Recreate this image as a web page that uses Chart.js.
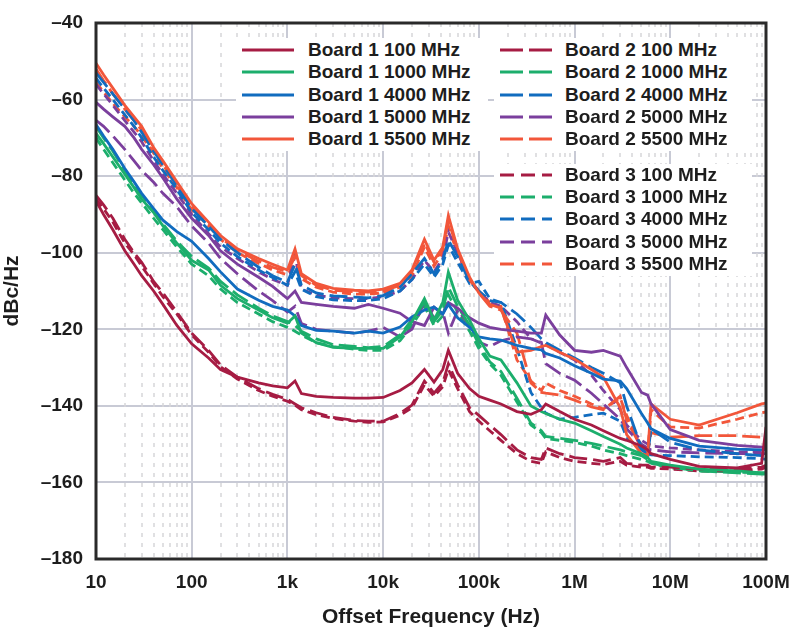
<!DOCTYPE html>
<html><head><meta charset="utf-8">
<script src="https://cdn.jsdelivr.net/npm/chart.js@4.4.1/dist/chart.umd.min.js"></script>
<style>
html,body{margin:0;padding:0;background:#fff;}
#wrap{position:relative;width:796px;height:634px;overflow:hidden;}
#c{position:absolute;left:0;top:0;}
.box{position:absolute;background:#fff;}
.row{position:absolute;height:22px;white-space:nowrap;font-family:'Liberation Sans',Arial,sans-serif;font-weight:bold;font-size:19px;line-height:22px;color:#1d1d1d;}
.row svg{position:absolute;top:0;}
.row span{position:absolute;top:0;}
</style></head>
<body><div id="wrap"><canvas id="c" width="796" height="634"></canvas><div id="legend"></div></div>
<script>
// ---- data ----
const freqs = [10,12,15,20,25,30,40,50,70,100,150,200,300,500,700,1000,1200,1400,2000,3000,5000,7000,10000,15000,20000,27000,34000,42000,48000,60000,80000,100000,130000,170000,250000,350000,450000,500000,700000,1e6,1.5e6,2e6,3e6,3.5e6,5e6,5.8e6,6.3e6,1e7,2e7,5e7,9e7,1e8];
const xTickValues = [10,100,1e3,1e4,1e5,1e6,1e7,1e8];
const xTickLabels = ['10','100','1k','10k','100k','1M','10M','100M'];

const b1_100  = [-86.5,-90,-94,-99.5,-103,-106,-110,-113.5,-119,-123.8,-127.5,-130.5,-132.5,-134,-134.8,-135.3,-133.5,-136.8,-137.5,-137.8,-138,-138,-137.8,-136,-134,-130.5,-133.8,-130.5,-125.5,-131.5,-135.5,-137.5,-138.5,-139.5,-141.5,-142.2,-141,-139.5,-141.5,-143.5,-145,-146.5,-148.5,-149,-150.5,-151.5,-152.5,-154,-155.8,-156.2,-155,-145.5];
const b1_1000 = [-68.8,-71.5,-75,-79.5,-83,-86,-89.5,-93,-97.5,-102,-104.5,-108.5,-112,-115,-117,-118.4,-116.5,-121,-123.5,-124.7,-125,-125,-125,-122,-118,-112,-117.6,-113,-105.1,-112.4,-117.6,-122.5,-127,-128,-134,-140,-141.5,-142,-143.5,-144.5,-146.5,-148,-150,-151,-152.5,-153.5,-154.5,-155.5,-156.5,-157,-157.5,-157.5];
const b1_4000 = [-66.5,-69.5,-73,-78,-81.5,-84.5,-88.5,-91.5,-94.5,-97,-101.5,-105,-109.5,-112.4,-114,-115,-116.5,-119,-120.3,-120.5,-121,-120.5,-121,-119.4,-116.8,-115,-114.2,-116,-113.5,-117,-119.5,-122,-122.5,-122.8,-124.2,-125,-125.4,-126.3,-127.5,-129.5,-131.5,-133,-133.5,-135.5,-142,-144.5,-146,-148.5,-150.5,-151.3,-151.5,-151.5];
const b1_5000 = [-60.7,-62.5,-64.5,-67,-70,-73,-77,-80.5,-86,-91,-95.5,-99.5,-103,-106.4,-108.8,-112,-110,-113,-113.5,-114,-114.5,-113.5,-114.5,-115.8,-118,-119,-114.2,-116,-113,-114.5,-117,-118.4,-119.5,-120,-120.5,-121,-121,-116.3,-121.5,-125.5,-126,-125.5,-127,-130,-136.5,-137.2,-139.5,-146.2,-149,-150.3,-150.8,-151];
const b1_5500 = [-50.5,-53.5,-57,-61.5,-64.5,-67,-72.5,-76,-81.5,-87.2,-92,-95.5,-99,-101.5,-103,-104.5,-99,-105.5,-108,-109.3,-109.8,-110,-109.5,-108,-104.5,-96.5,-102,-98.5,-90.3,-99,-106.4,-110.5,-113.5,-114.5,-126,-125.5,-124.5,-124.2,-126,-127.8,-130.5,-132.5,-140.5,-147.5,-152.5,-152.9,-139.5,-143.5,-145,-141.8,-139.5,-139.3];

const b2_100  = [-85,-87.5,-91,-96.5,-100,-102.5,-107.5,-110.5,-115.5,-121,-125.5,-129.3,-132.5,-135.5,-137,-138.3,-139.5,-140.5,-141.8,-143,-143.8,-144,-144,-142,-139.8,-133.5,-136.7,-134,-129,-134.5,-140.5,-142.5,-145,-147.5,-151.5,-153.5,-154,-151,-152.5,-153.5,-154,-154.5,-153.5,-155,-155.5,-155.5,-156,-156,-156.5,-156.5,-156,-155.5];
const b2_1000 = [-67,-70,-73.5,-78.5,-82,-85,-89,-92.5,-97,-101,-104,-107.5,-111,-114.5,-116.5,-118,-119,-120.5,-122.5,-124,-124.5,-124.8,-124.5,-121.5,-117.5,-113,-118,-115,-109,-114,-119,-124,-128.5,-131,-138,-144.5,-146.5,-148,-148.5,-149,-149.8,-150.5,-151.5,-152,-153,-154,-155,-156,-157,-157.5,-157.8,-157.8];
const b2_4000 = [-53,-55.5,-58.5,-62.5,-65.5,-68.5,-73.5,-77,-82.5,-88.5,-93,-96.5,-100,-103.8,-106,-107.7,-103,-108.5,-110.5,-111.3,-111.6,-111.8,-111.2,-109,-105.5,-101.5,-105.5,-102,-96.7,-101,-107.5,-110,-112.5,-113,-116,-119.5,-122.5,-123.5,-125.5,-127.5,-130,-131.5,-134,-140,-151,-152.8,-146,-149.5,-151.5,-152.5,-153,-153];
const b2_5000 = [-65.4,-67,-69.5,-73,-76,-78.5,-81.6,-84.5,-88,-93,-97.5,-101.5,-105.5,-110,-112.5,-115.5,-114,-118.5,-120,-120.5,-121,-120.5,-119.5,-122,-120,-113,-117,-115.5,-121,-115,-119,-123.3,-124.5,-123,-122,-122.5,-123.4,-129,-131.5,-133.3,-136.7,-139.5,-143.5,-146,-150,-151,-151.5,-152,-152.3,-152.5,-152.5,-152.5];
const b2_5500 = [-52,-55,-58.5,-62.5,-65.5,-68,-73,-77,-82.5,-88,-92.5,-96,-99.5,-102.2,-103.8,-105,-101,-106,-108.5,-109.8,-110.2,-110.3,-110,-108.5,-105,-97.5,-102.5,-99,-91.5,-99.5,-107,-110.5,-114,-115,-121,-134,-136.5,-136.7,-137.2,-138.5,-140.3,-141,-137.5,-143.7,-151,-152.4,-147,-148.2,-147.8,-147.8,-148.2,-148.2];

const b3_100  = [-86,-88.5,-92,-97.5,-100.5,-103.5,-108,-111.5,-116,-121.5,-126,-129.8,-133,-136,-137.5,-138.8,-139.8,-141,-142.3,-143.3,-144,-144.3,-144.2,-142.5,-140.5,-134.5,-137.5,-135,-130.5,-135.5,-141.5,-144,-146.5,-149,-152.5,-154.5,-155,-152,-153.5,-154.5,-155,-155.3,-154.5,-155.5,-156,-156,-156.3,-156.5,-157,-157,-156.5,-156];
const b3_1000 = [-70,-73,-76.5,-81,-84.5,-87,-91,-94,-98.5,-103,-106,-109.5,-113,-116,-118,-119.5,-120.5,-121.5,-123.5,-124.5,-125.2,-125.5,-125.5,-123,-119,-114,-119,-116.5,-111,-115.5,-120.5,-125,-129,-132,-139,-145,-147,-148.5,-149,-149.5,-150.5,-151.5,-152.5,-153,-154,-154.5,-155,-156.2,-157,-157.3,-157.5,-157.5];
const b3_4000 = [-54.4,-57,-60,-64,-67,-70,-75,-78.5,-83.5,-89.5,-94,-97.5,-101,-104.5,-106.5,-108.5,-105,-109.5,-111.5,-112.3,-112.5,-112.5,-112,-110,-107,-103,-106.4,-103,-98,-102.5,-108,-107.5,-112,-113,-125,-136.5,-140.5,-141.9,-143.5,-143,-142.3,-141.9,-144,-148.2,-151.5,-152.5,-152.8,-153,-153.3,-153.5,-153.8,-154];
const b3_5000 = [-56,-58.5,-61.5,-65.5,-68.5,-71,-76,-79.5,-84.5,-90,-95,-98.5,-101.5,-105,-107,-108.5,-100.7,-109.5,-111,-111.8,-112,-112,-111.5,-110,-107,-102,-105,-101.5,-94.6,-100,-107,-110,-113,-114,-118,-122.5,-123.6,-124,-126,-128,-132,-136,-141,-145,-149,-150,-150.5,-151,-151.5,-152,-152,-152];
const b3_5500 = [-55.5,-58,-61,-64.5,-67,-69.5,-74,-78,-83,-88.8,-93,-96.5,-100,-102.8,-104.5,-105.8,-103,-106.8,-109,-110.3,-110.8,-110.8,-110.5,-109,-106,-98.5,-103.5,-100,-93,-100.5,-107.5,-110,-113,-114,-128,-133.5,-136,-134,-136,-137.5,-139.5,-140.8,-138,-142.5,-150.8,-152.5,-141,-145.5,-145.8,-143.5,-141.8,-141.6];

const boards = ['Board 1','Board 2','Board 3'];
const carriers = ['100 MHz','1000 MHz','4000 MHz','5000 MHz','5500 MHz'];
const colors = ['#a61c43','#1cae6c','#116cbf','#7b3f9d','#f2563a'];
const dashes = [[], [18,6], [9,5]];
const seriesValues = [
  [b1_100,b1_1000,b1_4000,b1_5000,b1_5500],
  [b2_100,b2_1000,b2_4000,b2_5000,b2_5500],
  [b3_100,b3_1000,b3_4000,b3_5000,b3_5500]
];

const datasets = [];
boards.forEach((b,bi)=>carriers.forEach((c,ci)=>{
  datasets.push({
    label: b+' '+c,
    data: freqs.map((f,i)=>({x:f,y:seriesValues[bi][ci][i]})),
    borderColor: colors[ci], backgroundColor: colors[ci],
    borderWidth: 2.8, borderDash: dashes[bi], pointRadius: 0, tension: 0, fill:false
  });
}));

const FONT = "'Liberation Sans', Arial, sans-serif";
const minorGrid = {
  id:'minorGrid',
  beforeDatasetsDraw(chart){
    const {ctx, chartArea:a, scales:{x}} = chart;
    ctx.save();
    ctx.strokeStyle='#d6d6d9'; ctx.lineWidth=1.5; ctx.setLineDash([4,6]);
    for(let d=10; d<1e8; d*=10){
      for(let m=2;m<=9;m++){
        const px = Math.round(x.getPixelForValue(d*m));
        ctx.beginPath(); ctx.moveTo(px,a.top); ctx.lineTo(px,a.bottom); ctx.stroke();
      }
    }
    ctx.restore();
  }
};
const frame = {
  id:'frame',
  afterDraw(chart){
    const {ctx, chartArea:a} = chart;
    ctx.save(); ctx.strokeStyle='#2a2a2a'; ctx.lineWidth=3; ctx.setLineDash([]);
    ctx.strokeRect(a.left, a.top, a.right-a.left, a.bottom-a.top);
    ctx.restore();
  }
};

new Chart(document.getElementById('c'), {
  type:'line',
  data:{datasets},
  options:{
    responsive:false, animation:false, events:[],
    layout:{padding:{left:0,top:23,right:30,bottom:0}},
    plugins:{legend:{display:false}, tooltip:{enabled:false}},
    scales:{
      x:{
        type:'logarithmic', min:10, max:1e8,
        afterBuildTicks:(s)=>{ s.ticks = xTickValues.map(v=>({value:v})); },
        afterFit:(s)=>{ s.height = 75; s.paddingLeft = 0; s.paddingRight = 0; },
        ticks:{ autoSkip:false, maxRotation:0, padding:12, color:'#1d1d1d',
          font:{family:FONT, size:19, weight:'bold'},
          callback:(v)=>{ const i = xTickValues.indexOf(v); return i>=0 ? xTickLabels[i] : ''; } },
        grid:{ color:'#c8cad5', lineWidth:2, drawTicks:false },
        border:{ display:false },
        title:{ display:true, text:'Offset Frequency (Hz)', color:'#1d1d1d',
          font:{family:FONT, size:21, weight:'bold'}, padding:{top:0,bottom:4} }
      },
      y:{
        min:-180, max:-40,
        afterFit:(s)=>{ s.width = 96; s.paddingTop = 0; s.paddingBottom = 0; },
        ticks:{ stepSize:20, padding:13, color:'#1d1d1d',
          font:{family:FONT, size:19, weight:'bold'},
          callback:(v)=> (v<0 ? '\u2013'+Math.abs(v) : String(v)) },
        grid:{ color:'#c8cad5', lineWidth:2, drawTicks:false },
        border:{ display:false },
        title:{ display:true, text:'dBc/Hz', color:'#1d1d1d',
          font:{family:FONT, size:21, weight:'bold'}, padding:{top:0,bottom:0} }
      }
    }
  },
  plugins:[minorGrid, frame]
});

// ---- HTML legend ----
const lg = document.getElementById('legend');
function box(x,y,w,h){ const d=document.createElement('div'); d.className='box'; d.style.cssText=`left:${x}px;top:${y}px;width:${w}px;height:${h}px`; lg.appendChild(d); }
box(236,38,252,113); box(494,38,258,113); box(494,164,258,112);
function row(bi,ci,lineX,textX,yc){
  const d=document.createElement('div'); d.className='row';
  d.style.left=lineX+'px'; d.style.top=(yc-11)+'px';
  const dash = dashes[bi].length ? `stroke-dasharray="${bi===1?'23,6':'14,7'}"` : '';
  d.innerHTML = `<svg width="54" height="22" style="left:0"><line x1="1" y1="11" x2="53" y2="11" stroke="${colors[ci]}" stroke-width="3" ${dash}/></svg><span style="left:${textX-lineX}px">${boards[bi]} ${carriers[ci]}</span>`;
  lg.appendChild(d);
}
const rowY1 = [50,72.3,94.6,116.9,139.2];
const rowY3 = [175,197.2,219.4,241.6,263.8];
carriers.forEach((c,ci)=>{
  row(0,ci,241,308,rowY1[ci]);
  row(1,ci,499,565,rowY1[ci]);
  row(2,ci,499,565,rowY3[ci]);
});
</script>
</body></html>
